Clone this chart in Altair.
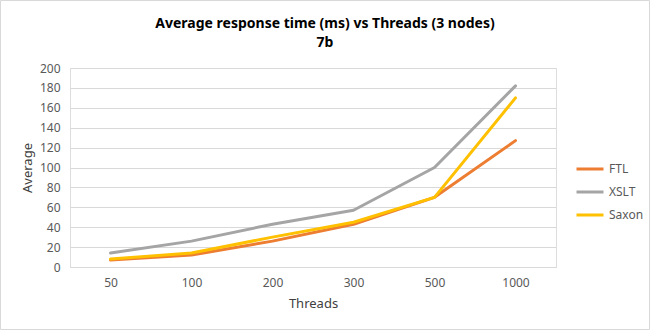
import altair as alt
import pandas as pd

threads = ["50", "100", "200", "300", "500", "1000"]
ftl = [7, 12, 26, 43, 70, 127]
xslt = [14, 26, 43, 57, 100, 182]
saxon = [8, 14, 30, 45, 70, 170]
series = ["FTL", "XSLT", "Saxon"]
colors = ["#ED7D31", "#A5A5A5", "#FFC000"]
title_lines = ["Average response time (ms) vs Threads (3 nodes)", "7b"]

rows = []
for name, vals in zip(series, [ftl, xslt, saxon]):
    for t, v in zip(threads, vals):
        rows.append({"Threads": t, "Average": v, "Series": name})
df = pd.DataFrame(rows)

FONT = "Noto Sans"
W, H = 486, 199
PL, PT = 70, 68

lines = alt.Chart(df).mark_line(strokeWidth=3, strokeJoin="round", strokeCap="round").encode(
    x=alt.X("Threads:N", sort=threads, scale=alt.Scale(type="point", padding=0.5),
            axis=alt.Axis(title="Threads", labelAngle=0, ticks=False, domain=True,
                          domainColor="#D9D9D9", labelColor="#595959", labelFont=FONT,
                          labelFontSize=12, labelPadding=10, titleFont=FONT, titleFontSize=13,
                          titleFontWeight="normal", titleColor="#404040", titlePadding=9)),
    y=alt.Y("Average:Q", scale=alt.Scale(domain=[0, 200], nice=False),
            axis=alt.Axis(title="Average", values=list(range(0, 201, 20)), ticks=False, domain=False,
                          gridColor="#D9D9D9", labelColor="#595959", labelFont=FONT,
                          labelFontSize=12, labelPadding=10, titleFont=FONT, titleFontSize=13,
                          titleFontWeight="normal", titleColor="#404040", titlePadding=5)),
    color=alt.Color("Series:N", sort=series, scale=alt.Scale(domain=series, range=colors),
                    legend=alt.Legend(title=None, orient="none", legendX=505, legendY=86,
                                      symbolType="stroke", symbolSize=729, symbolStrokeWidth=3,
                                      labelFont=FONT, labelFontSize=12, labelColor="#595959",
                                      rowPadding=2, labelOffset=4)),
)

border = alt.Chart(pd.DataFrame({"a": [0]})).mark_rect(fill=None, stroke="#D9D9D9", strokeWidth=1).encode(
    x=alt.value(-PL + 0.5), x2=alt.value(650 - PL - 0.5),
    y=alt.value(-PT + 0.5), y2=alt.value(330 - PT - 0.5),
)

tdf = pd.DataFrame({"t": title_lines, "yy": [-40, -21]})
titles = alt.Chart(tdf).mark_text(font=FONT, fontSize=14, fontWeight="bold", color="#000000",
                                  align="center", baseline="alphabetic").encode(
    text="t:N", x=alt.value(255), y=alt.Y("yy:Q", scale=None),
)

chart = alt.layer(border, lines, titles).properties(
    width=W, height=H,
    autosize=alt.AutoSizeParams(type="none"),
    padding={"left": PL, "top": PT, "right": 650 - PL - W, "bottom": 330 - PT - H},
).configure_view(stroke=None).configure(background="white")

chart.save("out.html", embed_options={"renderer": "svg", "actions": False})
